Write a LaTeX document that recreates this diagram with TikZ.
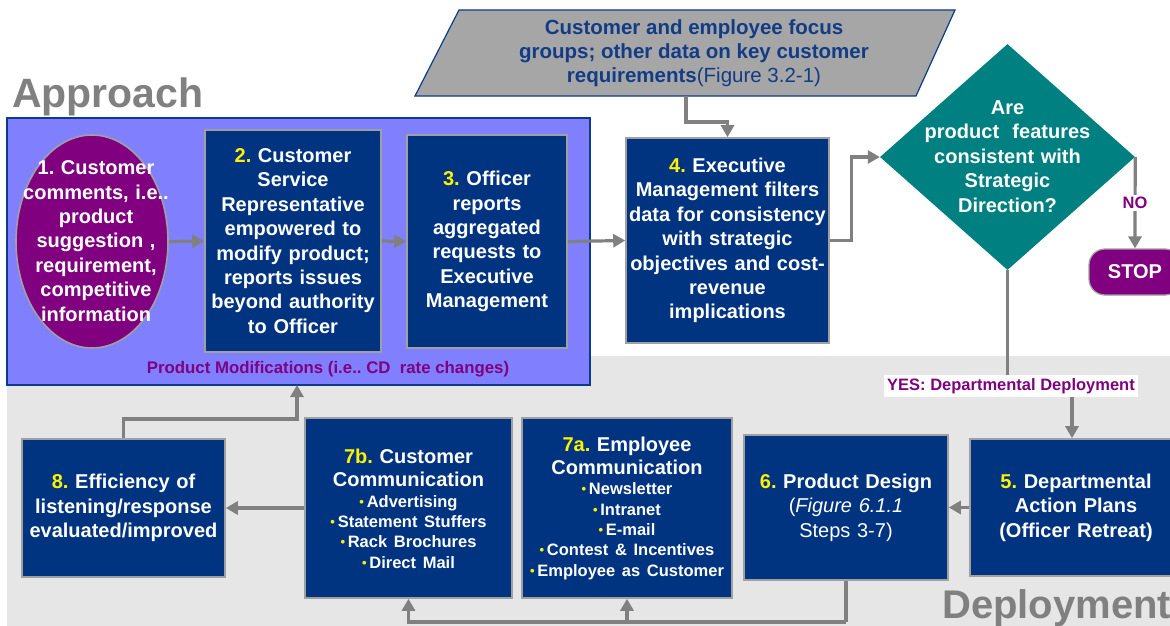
\documentclass[tikz,border=0pt]{standalone}
\usepackage{fontspec}
\setmainfont{Liberation Sans}
\usetikzlibrary{arrows.meta,shapes.geometric}
\frenchspacing
\definecolor{nblue}{HTML}{003380}
\definecolor{lav}{HTML}{8080FF}
\definecolor{bordblue}{HTML}{0B3C8C}
\definecolor{pur}{HTML}{800080}
\definecolor{tealc}{HTML}{008080}
\definecolor{gbg}{HTML}{E6E6E6}
\definecolor{linkc}{HTML}{808080}
\definecolor{parac}{HTML}{A6A6A6}
\definecolor{ptext}{HTML}{123C86}
\definecolor{boxedge}{HTML}{A0A0A0}
\newcommand{\nb}[1]{\textcolor{yellow}{#1}}
\newcommand{\bu}{\textcolor{yellow}{\fontsize{13}{13}\selectfont\raisebox{1pt}{•}}\,}
\tikzset{
  boxs/.style={draw=boxedge, line width=1.6pt, fill=nblue, inner sep=0pt},
  txt/.style={text=white, font=\bfseries\fontsize{20}{24.4}\selectfont, align=center, text width=#1, inner sep=0pt},
  link/.style={draw=linkc, line width=3.2pt},
  arr/.style={link, -{Triangle[length=12pt,width=13pt]}},
  lab/.style={fill=white, text=pur, font=\bfseries\fontsize{16.5}{19}\selectfont},
}
\begin{document}
\begin{tikzpicture}[x=1pt,y=-1pt]
\useasboundingbox (0,0) rectangle (1170,626);
\clip (0,0) rectangle (1170,626);
% background regions
\fill[white] (0,0) rectangle (1170,626);
\fill[gbg] (7,356) rectangle (1170,626);
\node[draw=bordblue, line width=2pt, fill=lav, minimum width=583pt, minimum height=267pt, inner sep=0pt] (appbox) at (298.5,251.5) {};
\node[anchor=base west, text=linkc, font=\bfseries\fontsize{41}{48}\selectfont, inner sep=0pt] (apt) at (12,107) {Approach};
\node[anchor=base west, text=linkc, font=\bfseries\fontsize{40}{48}\selectfont, inner sep=0pt] (dpt) at (942,618) {Deployment};
\node[text=pur, font=\bfseries\fontsize{16.8}{19}\selectfont, inner sep=0pt] (pm) at (328,369) {Product Modifications (i.e.. CD\ \ rate changes)};

% parallelogram
\coordinate (pa) at (459,10);
\coordinate (pbb) at (955,10);
\coordinate (pc) at (916,96);
\coordinate (pd) at (415,96);
\draw[draw=bordblue, line width=1.2pt, fill=parac] (pa) -- (pbb) -- (pc) -- (pd) -- cycle;
\node[text=ptext, font=\bfseries\fontsize{20.5}{24}\selectfont, align=center, inner sep=0pt] (ptx) at (694,53) {Customer and employee focus\\groups; other data on key customer\\requirements{\mdseries(Figure 3.2-1)}};
\coordinate (pout) at (686,96);
\coordinate (pk) at (686,122);

% approach row
\node[ellipse, draw=boxedge, line width=1.6pt, fill=pur, minimum width=152pt, minimum height=213pt, inner sep=0pt] (e1) at (92,241.5) {};
\node[txt=170pt] (t1) at (96,241) {1. Customer\\comments, i.e..\\product\\suggestion ,\\requirement,\\competitive\\information};
\node[boxs, minimum width=176pt, minimum height=222pt] (b2) at (293,241) {};
\node[txt=200pt] (t2) at (b2) {\nb{2.} Customer\\Service\\Representative\\empowered to\\modify product;\\reports issues\\beyond authority\\to Officer};
\node[boxs, minimum width=160pt, minimum height=213pt] (b3) at (487,241.5) {};
\node[txt=180pt] (t3) at (b3) {\nb{3.} Officer\\reports\\aggregated\\requests to\\Executive\\Management};
\node[boxs, minimum width=203pt, minimum height=205pt] (b4) at (727.5,240.5) {};
\node[txt=220pt] (t4) at (b4) {\nb{4.} Executive\\Management filters\\data for consistency\\with strategic\\objectives and cost-\\revenue\\implications};

% decision
\node[diamond, fill=tealc, minimum width=255pt, minimum height=226pt, inner sep=0pt] (dia) at (1007.5,157) {};
\node[txt=220pt] (tdia) at (1007.5,156.5) {Are\\product\ \ features\\consistent with\\Strategic\\Direction?};
\node[draw=boxedge, line width=1.2pt, fill=pur, rounded corners=16pt, minimum width=92pt, minimum height=46pt, text=white, font=\bfseries\fontsize{20}{24}\selectfont] (stop) at (1135,272) {STOP};

% deployment row
\node[boxs, minimum width=212pt, minimum height=137pt] (b5) at (1076,507.5) {};
\node[txt=200pt] (t5) at (b5) {\nb{5.} Departmental\\Action Plans\\(Officer Retreat)};
\node[boxs, minimum width=204pt, minimum height=145pt] (b6) at (846,507.5) {};
\node[txt=200pt] (t6) at (b6) {\nb{6.} Product Design\\{\mdseries(\textit{Figure 6.1.1}}\\{\mdseries Steps 3-7)}};
\node[boxs, minimum width=210pt, minimum height=180pt] (b7a) at (627,508) {};
\node[txt=240pt] (t7a) at (627,508) {{\fontsize{20}{23.5}\selectfont \nb{7a.} Employee\\Communication\par}{\fontsize{16.5}{20.3}\selectfont \bu Newsletter\\\bu Intranet\\\bu E-mail\\\bu Contest \& Incentives\\\bu Employee as Customer\par}};
\node[boxs, minimum width=207pt, minimum height=180pt] (b7b) at (408.5,508) {};
\node[txt=240pt] (t7b) at (408.5,508.5) {{\fontsize{20}{23.5}\selectfont \nb{7b.} Customer\\Communication\par}{\fontsize{16.5}{20.3}\selectfont \bu Advertising\\\bu Statement Stuffers\\\bu Rack Brochures\\\bu Direct Mail\par}};
\node[boxs, minimum width=203pt, minimum height=138pt] (b8) at (123.5,508) {};
\node[txt=220pt] (t8) at (b8) {\nb{8.} Efficiency of\\listening/response\\evaluated/improved};

% connectors
\draw[arr] (e1.east) -- (b2.west);
\draw[arr] (b2.east) -- (b3.west);
\draw[arr] (b3.east) -- (b4.west);
\draw[arr] (pout) -- (pk) -| (b4.north);
\draw[arr] (b4.east) -- ++(22,0) |- (dia.west);
\draw[arr] (dia.east) -- (stop.north);
\node[lab, inner sep=2pt] (no) at (1135,203) {NO};
\node[lab, inner xsep=3pt, minimum height=22pt, inner ysep=0pt] (yes) at (1011,386) {YES: Departmental Deployment};
\draw[link] (dia.south) -- (yes.north -| dia.south);
\coordinate (yk) at (1072,397);
\draw[arr] (yk) -- (yk |- b5.north);
\draw[arr] (b5.west) -- (b6.east);
\coordinate (bot) at (846,622);
\draw[link] (b6.south) -- (bot);
\draw[arr] (bot) -| (b7b.south);
\draw[arr] (b7a.south |- bot) -- (b7a.south);
\draw[arr] (b7b.west) -- (b8.east);
\coordinate (k8) at (123.5,419);
\coordinate (ap) at (297,385);
\draw[arr] (b8.north) -- (k8) -| (ap);
\end{tikzpicture}
\end{document}
